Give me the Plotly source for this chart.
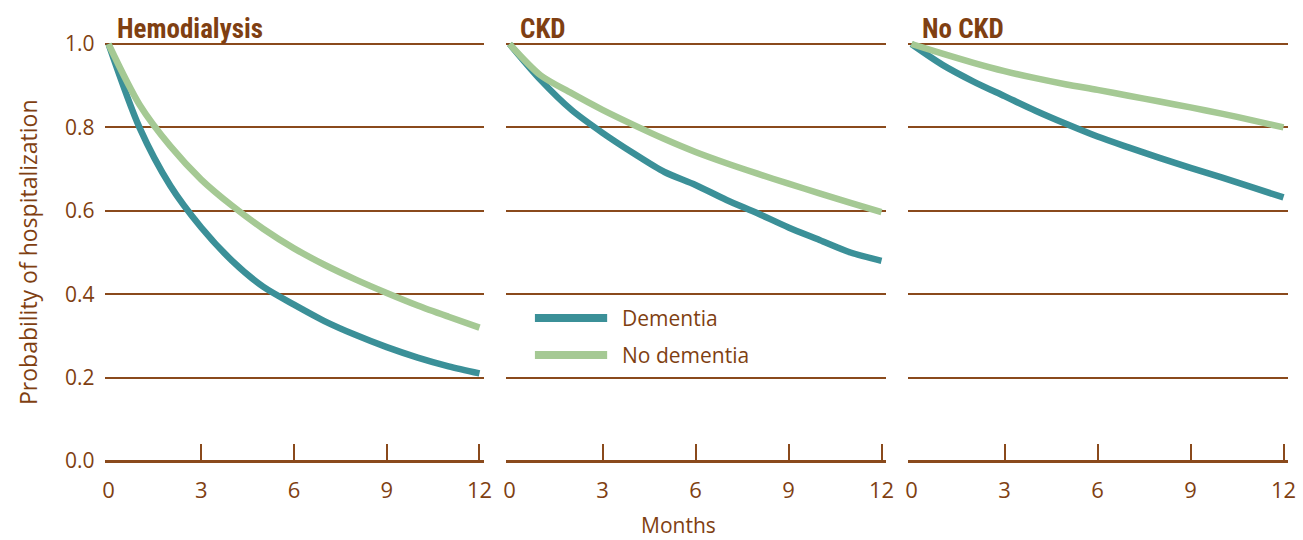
import plotly.graph_objects as go

months = list(range(13))
panels = ["Hemodialysis", "CKD", "No CKD"]
dementia = {
    "Hemodialysis": [1.0, 0.80, 0.66, 0.56, 0.48, 0.418, 0.375, 0.335, 0.302, 0.273, 0.248, 0.227, 0.21],
    "CKD": [1.0, 0.914, 0.842, 0.787, 0.738, 0.693, 0.662, 0.626, 0.594, 0.56, 0.53, 0.50, 0.48],
    "No CKD": [1.0, 0.95, 0.91, 0.875, 0.84, 0.808, 0.778, 0.752, 0.727, 0.703, 0.68, 0.656, 0.632],
}
no_dementia = {
    "Hemodialysis": [1.0, 0.855, 0.755, 0.675, 0.612, 0.557, 0.51, 0.47, 0.435, 0.403, 0.373, 0.346, 0.32],
    "CKD": [1.0, 0.925, 0.882, 0.842, 0.806, 0.772, 0.741, 0.714, 0.689, 0.665, 0.642, 0.619, 0.597],
    "No CKD": [1.0, 0.977, 0.955, 0.935, 0.918, 0.903, 0.89, 0.876, 0.862, 0.848, 0.833, 0.817, 0.80],
}
series_names = ["Dementia", "No dementia"]
x_ticks = [0, 3, 6, 9, 12]
y_ticks = [0.0, 0.2, 0.4, 0.6, 0.8, 1.0]

TEAL = "#3b9098"
GREEN = "#a5c994"
BROWN = "#7f3f12"
GRID = "#8a4a1c"
TEXT_FONT = "Open Sans, Noto Sans, sans-serif"
TITLE_FONT = "Liberation Sans Narrow, Roboto Condensed, Arial Narrow, sans-serif"

W, H = 1303, 540
x_px = [(108.5, 479.5), (509.5, 881.5), (911.5, 1283.5)]
xr = [-0.1, 12.15]
yr = [-0.005, 1.02]
y0px, y1px = 461, 44
ppu = (y0px - y1px) / 1.0

fig = go.Figure()
for i, p in enumerate(panels):
    n = "" if i == 0 else str(i + 1)
    a, b = x_px[i]
    ppm = (b - a) / 12
    left = a + xr[0] * ppm
    right = a + xr[1] * ppm
    bot = y0px - yr[0] * ppu
    top = y0px - yr[1] * ppu
    fig.add_trace(go.Scatter(x=months, y=dementia[p], mode="lines", name=series_names[0],
                             line=dict(color=TEAL, width=6.5, shape="spline", smoothing=0.8),
                             showlegend=False, xaxis="x" + n, yaxis="y" + n))
    fig.add_trace(go.Scatter(x=months, y=no_dementia[p], mode="lines", name=series_names[1],
                             line=dict(color=GREEN, width=6.5, shape="spline", smoothing=0.8),
                             showlegend=False, xaxis="x" + n, yaxis="y" + n))
    fig.layout["xaxis" + n] = dict(
        domain=[left / W, right / W], range=xr, anchor="y" + n, automargin=False,
        tickvals=x_ticks, ticktext=[str(v) for v in x_ticks], ticks="",
        ticklabelstandoff=12,
        showgrid=False, zeroline=False, showline=False,
        minor=dict(tickvals=[3, 6, 9, 12], ticks="inside", ticklen=19, tickcolor=GRID, tickwidth=2),
        tickfont=dict(family=TEXT_FONT, size=22, color=BROWN), fixedrange=True,
    )
    fig.layout["yaxis" + n] = dict(
        domain=[(H - bot) / H, (H - top) / H], range=yr, anchor="x" + n, automargin=False,
        tickvals=y_ticks, ticktext=["%.1f" % v for v in y_ticks], ticklabelstandoff=10,
        showticklabels=(i == 0), showgrid=True, gridcolor=GRID, gridwidth=2,
        zeroline=True, zerolinecolor=GRID, zerolinewidth=3, showline=False, ticks="",
        tickfont=dict(family=TEXT_FONT, size=21, color=BROWN), fixedrange=True,
    )
    fig.add_annotation(text="<b>%s</b>" % p, xref="x" + n, yref="y" + n,
                       x=0.22 if i == 0 else 0.28, y=1.0,
                       xanchor="left", yanchor="bottom", showarrow=False, yshift=-3,
                       font=dict(family=TITLE_FONT, size=27, color=BROWN))

# legend (drawn inside CKD panel)
for k, (name, col) in enumerate(zip(series_names, [TEAL, GREEN])):
    yy = 0.343 - k * 0.089
    fig.add_shape(type="line", xref="x2", yref="y2", x0=0.82, x1=3.15, y0=yy, y1=yy,
                  line=dict(color=col, width=8))
    fig.add_annotation(text=name, xref="x2", yref="y2", x=3.55, y=yy, xanchor="left",
                       yanchor="middle", showarrow=False,
                       font=dict(family=TEXT_FONT, size=21, color=BROWN))

fig.add_annotation(text="Probability of hospitalization", xref="paper", yref="paper",
                   x=28 / W, y=(H - 252) / H, xanchor="center", yanchor="middle",
                   textangle=-90, showarrow=False,
                   font=dict(family=TEXT_FONT, size=23, color=BROWN))
fig.add_annotation(text="Months", xref="paper", yref="paper",
                   x=678 / W, y=(H - 525) / H, xanchor="center", yanchor="middle",
                   showarrow=False,
                   font=dict(family=TEXT_FONT, size=21, color=BROWN))

fig.update_layout(width=W, height=H, margin=dict(l=0, r=0, t=0, b=0, autoexpand=False),
                  paper_bgcolor="white", plot_bgcolor="white", showlegend=False)
fig.write_html("out.html")
